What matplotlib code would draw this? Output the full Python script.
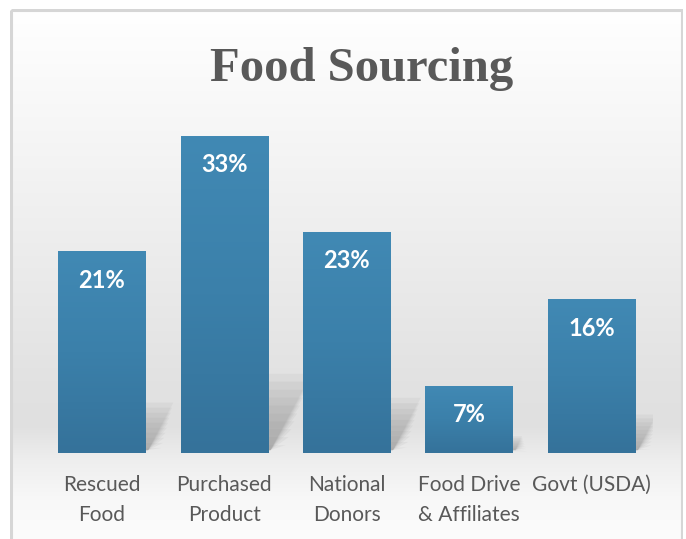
import matplotlib
matplotlib.use("Agg")
import matplotlib.pyplot as plt
import numpy as np
from matplotlib.patches import Polygon, Rectangle
from matplotlib.colors import LinearSegmentedColormap

categories = ["Rescued\nFood", "Purchased\nProduct", "National\nDonors",
              "Food Drive\n& Affiliates", "Govt (USDA)"]
values = [21, 33, 23, 7, 16]
value_labels = ["21%", "33%", "23%", "7%", "16%"]
title = "Food Sourcing"

W, H = 686, 539
fig = plt.figure(figsize=(W / 100, H / 100), dpi=100)

# background gradient
bg = fig.add_axes([0, 0, 1, 1], zorder=0)
bg.set_axis_off()
ys = np.array([0, 10, 130, 380, 425, 460, 500, 539])
vs = np.array([255, 255, 246, 226, 224, 238, 248, 252]) / 255.0
yy = np.arange(H)
col = np.interp(yy, ys, vs)
img = np.repeat(col[:, None], 10, axis=1)
img = np.dstack([img, img, img])
bg.imshow(img, extent=[0, W, H, 0], aspect="auto")
bg.set_xlim(0, W)
bg.set_ylim(H, 0)
bg.add_patch(Rectangle((10.5, 9.5), 671, 540, fill=False, edgecolor="#d6d6d6", lw=2.2))
bg.add_patch(Rectangle((0, 0), 9.5, H, color="white", lw=0))
bg.add_patch(Rectangle((0, 0), W, 8.5, color="white", lw=0))
bg.add_patch(Rectangle((682.5, 0), 10, H, color="white", lw=0))

ax = fig.add_axes([40.75 / W, 86 / H, 612 / W, 336 / H], zorder=1)
ax.patch.set_alpha(0)
x = np.arange(len(values))
for s in ax.spines.values():
    s.set_visible(False)
ax.set_xticks([])
ax.set_yticks([])

width = 0.714
px_per_x = 612 / 5.0
px_per_y = 336 / 35.0
for xi, v in zip(x, values):
    dy = 0.25 * v
    dx = 0.55 * dy * px_per_y / px_per_x
    xl, xr = xi - width / 2, xi + width / 2
    n = 10
    for k in range(n):
        t = (k + 1) / n
        shrink = 0.12 * (1 - t)
        poly = Polygon([(xl + 0.1, 0), (xr + 0.02, 0.3),
                        (xr + dx * t + shrink, dy * t), (xl + 0.1 + dx * t, dy * t)],
                       closed=True, facecolor="#8a8a8a", edgecolor="none", alpha=0.09, zorder=1)
        ax.add_patch(poly)

cmap = LinearSegmentedColormap.from_list("barg", ["#35729a", "#3b80aa", "#4189b4"])
bars = ax.bar(x, values, width=width, color="none", edgecolor="none", zorder=2)
grad = np.linspace(0, 1, 256)[:, None]
for b, v in zip(bars, values):
    xl = b.get_x()
    im = ax.imshow(grad, extent=[xl, xl + width, 0, v], origin="lower", cmap=cmap,
                   aspect="auto", zorder=2)
    im.set_clip_path(b)

ax.set_xlim(-0.5, len(values) - 0.5)
ax.set_ylim(0, 35)

for xi, v, lab in zip(x, values, value_labels):
    ax.text(xi, v - 3.0, lab, ha="center", va="center", color="white",
            fontsize=17, fontweight="bold", family="Lato", zorder=3)

for xi, c in zip(x, categories):
    ax.text(xi, -2.3, c, ha="center", va="top", color="#595959", fontsize=15,
            family="Lato", linespacing=1.6, zorder=3)

fig.text(362 / W, 1 - 69 / H, title, ha="center", va="center", color="#595959",
         fontsize=35, fontweight="bold", family="Liberation Serif")

fig.savefig("out.png", dpi=100)
